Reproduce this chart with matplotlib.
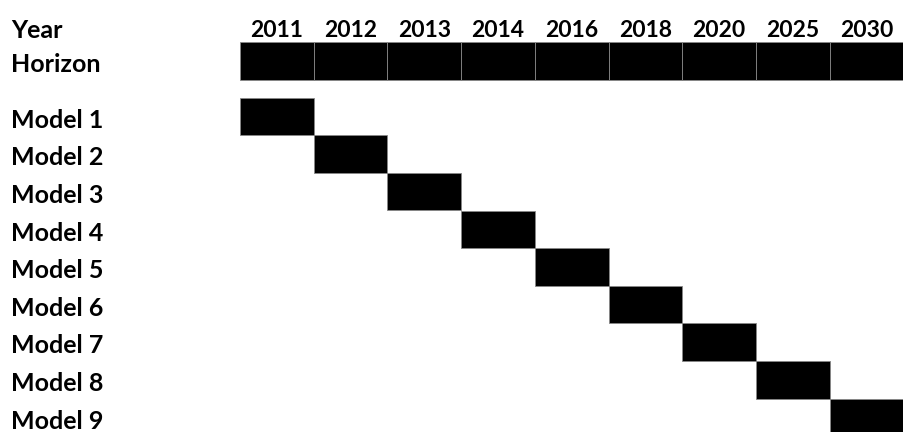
import matplotlib
matplotlib.use("Agg")
import matplotlib.pyplot as plt

years = ["2011", "2012", "2013", "2014", "2016", "2018", "2020", "2025", "2030"]
models = ["Model 1", "Model 2", "Model 3", "Model 4", "Model 5",
          "Model 6", "Model 7", "Model 8", "Model 9"]
model_year_index = [0, 1, 2, 3, 4, 5, 6, 7, 8]
horizon_years = years  # horizon spans every year

W, H, DPI = 904, 432, 100
col_px = 73.7
row_px = 37.6
left_px = 240
model1_center_px = 116.5

fig = plt.figure(figsize=(W / DPI, H / DPI), dpi=DPI)
ax = fig.add_axes([0, 0, 1, 1])
x0 = -left_px / col_px
x1 = (W - left_px) / col_px
y_top = -model1_center_px / row_px
y_bot = (H - model1_center_px) / row_px
ax.set_xlim(x0, x1)
ax.set_ylim(y_bot, y_top)
ax.axis("off")

font = dict(family=["Lato", "DejaVu Sans"], fontweight="bold", fontsize=18, color="black")
year_font = dict(font, fontsize=16.5)

horizon_row = -1.476
year_row = -2.38
text_dy = 0.1
label_x = x0 + 11 / col_px

# Horizon bars
hx = [years.index(y) for y in horizon_years]
ax.barh([horizon_row] * len(hx), [1] * len(hx), left=hx, height=38 / row_px,
        align="center", color="black", edgecolor="#888888", linewidth=0.6)

# Model bars
ax.barh(list(range(len(models))), [1] * len(models), left=model_year_index,
        height=1.0, align="center", color="black", edgecolor="#888888", linewidth=0.6)

# Labels
ax.text(label_x, year_row + text_dy, "Year", ha="left", va="center", **font)
ax.text(label_x, horizon_row + text_dy, "Horizon", ha="left", va="center", **font)
for i, m in enumerate(models):
    ax.text(label_x, i + text_dy, m, ha="left", va="center", **font)
for i, y in enumerate(years):
    ax.text(i + 0.5, year_row + text_dy, y, ha="center", va="center", **year_font)

fig.savefig("out.png", dpi=DPI)
